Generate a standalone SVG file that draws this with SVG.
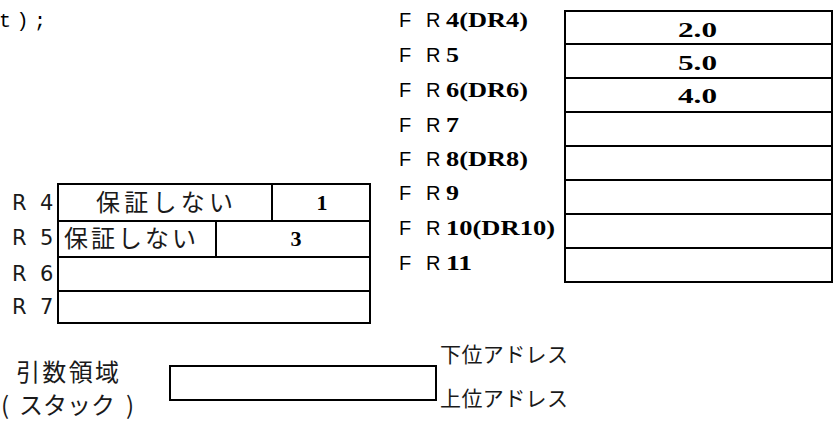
<svg xmlns="http://www.w3.org/2000/svg" width="839" height="434" viewBox="0 0 839 434">
<style>
.box{fill:#fff;stroke:#000;stroke-width:2}
.ln{stroke:#000;stroke-width:2}
.sans{font-family:"Noto Sans CJK JP","DejaVu Sans",sans-serif;fill:#1a1a1a}
.rl{font-family:"DejaVu Sans","Noto Sans",sans-serif;font-size:21px;fill:#1a1a1a}
.lbl{font-family:"Liberation Sans",Arial,sans-serif;font-size:20px;fill:#000}
.num{font-family:"Liberation Serif","Times New Roman",serif;font-weight:bold;font-size:22px;fill:#000}
.mono{font-family:"Liberation Mono","DejaVu Sans Mono",monospace;font-size:20px;fill:#000}
</style>
<rect width="839" height="434" fill="#fff"/>
<text class="mono" x="-1" y="27" letter-spacing="5.5">t);</text>

<g id="fr-labels">
<text class="lbl" y="27"><tspan x="399">F</tspan><tspan x="426">R</tspan><tspan class="num" x="446" textLength="82" lengthAdjust="spacingAndGlyphs">4(DR4)</tspan></text>
<text class="lbl" y="62"><tspan x="399">F</tspan><tspan x="426">R</tspan><tspan class="num" x="446" textLength="13" lengthAdjust="spacingAndGlyphs">5</tspan></text>
<text class="lbl" y="97"><tspan x="399">F</tspan><tspan x="426">R</tspan><tspan class="num" x="446" textLength="82" lengthAdjust="spacingAndGlyphs">6(DR6)</tspan></text>
<text class="lbl" y="132"><tspan x="399">F</tspan><tspan x="426">R</tspan><tspan class="num" x="446" textLength="13" lengthAdjust="spacingAndGlyphs">7</tspan></text>
<text class="lbl" y="166"><tspan x="399">F</tspan><tspan x="426">R</tspan><tspan class="num" x="446" textLength="82" lengthAdjust="spacingAndGlyphs">8(DR8)</tspan></text>
<text class="lbl" y="200"><tspan x="399">F</tspan><tspan x="426">R</tspan><tspan class="num" x="446" textLength="13" lengthAdjust="spacingAndGlyphs">9</tspan></text>
<text class="lbl" y="235"><tspan x="399">F</tspan><tspan x="426">R</tspan><tspan class="num" x="446" textLength="109" lengthAdjust="spacingAndGlyphs">10(DR10)</tspan></text>
<text class="lbl" y="270"><tspan x="399">F</tspan><tspan x="426">R</tspan><tspan class="num" x="446" textLength="26" lengthAdjust="spacingAndGlyphs">11</tspan></text>
</g>

<g id="fr-table">
<rect class="box" x="565" y="11" width="267" height="271"/>
<line class="ln" x1="565" y1="44" x2="832" y2="44"/>
<line class="ln" x1="565" y1="78" x2="832" y2="78"/>
<line class="ln" x1="565" y1="112" x2="832" y2="112"/>
<line class="ln" x1="565" y1="146" x2="832" y2="146"/>
<line class="ln" x1="565" y1="180" x2="832" y2="180"/>
<line class="ln" x1="565" y1="214" x2="832" y2="214"/>
<line class="ln" x1="565" y1="248" x2="832" y2="248"/>
<text class="num" x="678" y="37" textLength="39" lengthAdjust="spacingAndGlyphs">2.0</text>
<text class="num" x="678" y="70" textLength="39" lengthAdjust="spacingAndGlyphs">5.0</text>
<text class="num" x="678" y="103" textLength="39" lengthAdjust="spacingAndGlyphs">4.0</text>
</g>

<g id="r-labels">
<text class="rl" y="210"><tspan x="12">R</tspan><tspan x="40">4</tspan></text>
<text class="rl" y="245"><tspan x="12">R</tspan><tspan x="40">5</tspan></text>
<text class="rl" y="281"><tspan x="12">R</tspan><tspan x="40">6</tspan></text>
<text class="rl" y="314"><tspan x="12">R</tspan><tspan x="40">7</tspan></text>
</g>

<g id="r-table">
<rect class="box" x="58" y="184" width="312" height="139"/>
<line class="ln" x1="58" y1="221" x2="370" y2="221"/>
<line class="ln" x1="58" y1="257" x2="370" y2="257"/>
<line class="ln" x1="58" y1="291" x2="370" y2="291"/>
<line class="ln" x1="272" y1="184" x2="272" y2="221"/>
<line class="ln" x1="216" y1="221" x2="216" y2="257"/>
<text class="sans" font-size="24" x="96" y="211" textLength="137" lengthAdjust="spacing">保証しない</text>
<text class="sans" font-size="24" x="64" y="247" textLength="132" lengthAdjust="spacing">保証しない</text>
<text class="num" x="322" y="210" text-anchor="middle">1</text>
<text class="num" x="296" y="246" text-anchor="middle">3</text>
</g>

<g id="stack">
<text class="sans" font-size="24" x="16" y="381" textLength="103" lengthAdjust="spacing">引数領域</text>
<text class="sans" font-size="24" y="414"><tspan x="1">(</tspan><tspan x="19" textLength="96" lengthAdjust="spacing">スタック</tspan><tspan x="126">)</tspan></text>
<rect class="box" x="170" y="366" width="266" height="34"/>
<text class="sans" font-size="21" x="440" y="362" textLength="128" lengthAdjust="spacing">下位アドレス</text>
<text class="sans" font-size="21" x="440" y="406" textLength="128" lengthAdjust="spacing">上位アドレス</text>
</g>
</svg>
